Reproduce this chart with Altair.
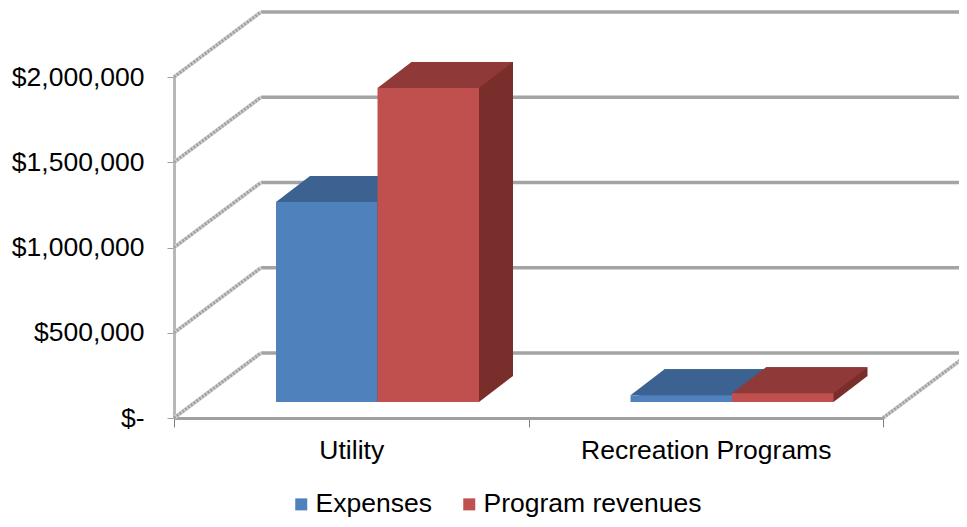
import altair as alt
import pandas as pd

# ---- data ----
categories = ["Utility", "Recreation Programs"]
series = ["Expenses", "Program revenues"]
expenses = [1173000, 40000]
revenues = [1842000, 52000]
tick_values = [0, 500000, 1000000, 1500000, 2000000]

front_colors = ["#4F81BD", "#C0504D"]
top_colors = ["#3B6290", "#8F3A38"]
side_colors = ["#2F4F74", "#7A2E2C"]

# ---- tables ----
rows = []
for i, c in enumerate(categories):
    for j, (s, vals) in enumerate(zip(series, [expenses, revenues])):
        rows.append({"cat": c, "series": s, "value": vals[i], "zero": 0,
                     "topcol": top_colors[j], "sidecol": side_colors[j]})
bars = pd.DataFrame(rows)
ticks = pd.DataFrame({"v": tick_values})
floor = pd.DataFrame({"v": [0]})

W, H = 709, 341
DX, DY = 87, 65          # depth of the wall/floor box
BX0, BX1 = 102, 305      # bar group span inside each category band (front face)
BY = 16                  # bar front face raised above the front floor edge
TX, TY = 34, 26          # bar depth
BW = (BX1 - BX0) / 2

FONT = "Liberation Sans"
FS = 26.5

x_enc = alt.X("cat:N", sort=categories, title=None,
              scale=alt.Scale(paddingInner=0, paddingOuter=0),
              axis=alt.Axis(labelFontSize=FS, labelFont=FONT, labelColor="black",
                            labelAngle=0, tickBand="extent", tickSize=9, tickColor="#808080",
                            domainColor="#A0A0A0", domainWidth=3, labelPadding=10,
                            labelLimit=500, grid=False))
xo_front = alt.XOffset("series:N", sort=series,
                       scale=alt.Scale(range=[BX0, BX1], paddingInner=0, paddingOuter=0))
xo_side = alt.XOffset("series:N", sort=series,
                      scale=alt.Scale(range=[BX0 + TX, BX1 + TX], paddingInner=0, paddingOuter=0))
# point marks use a point scale: put the two points at the bar centres
xo_pts = alt.XOffset("series:N", sort=series,
                     scale=alt.Scale(type="point", range=[BX0 + BW / 2, BX1 - BW / 2],
                                     padding=0))
y_scale = alt.Scale(domain=[0, 2000000], nice=False)
y_enc = alt.Y("value:Q", scale=y_scale, title=None,
              axis=alt.Axis(values=tick_values, grid=False,
                            labelExpr="datum.value == 0 ? '$-' : '$' + format(datum.value, ',')",
                            labelFontSize=FS, labelFont=FONT, labelColor="black",
                            tickSize=7, tickColor="#A0A0A0", labelPadding=23,
                            domainColor="#B8B8B8", domainWidth=3))

# back wall gridlines
back_grid = alt.Chart(ticks).mark_rule(
    color="#A4A4A4", strokeWidth=3.5, yOffset=-DY, y2Offset=-DY
).encode(
    y=alt.Y("v:Q", scale=y_scale),
    x=alt.value(DX), x2=alt.value(W + DX + 120),
)
# side wall diagonals
side_base = alt.Chart(ticks).mark_rule(
    color="#CFCFCF", strokeWidth=4, y2Offset=-DY
).encode(
    y=alt.Y("v:Q", scale=y_scale), y2="v:Q",
    x=alt.value(0), x2=alt.value(DX),
)
side_hatch = alt.Chart(ticks).mark_rule(
    color="#A0A0A0", strokeWidth=3, strokeDash=[2, 1.5], y2Offset=-DY
).encode(
    y=alt.Y("v:Q", scale=y_scale), y2="v:Q",
    x=alt.value(0), x2=alt.value(DX),
)
# right floor edge
floor_base = alt.Chart(floor).mark_rule(
    color="#CFCFCF", strokeWidth=4, y2Offset=-DY
).encode(
    y=alt.Y("v:Q", scale=y_scale), y2="v:Q",
    x=alt.value(W), x2=alt.value(W + DX),
)
floor_hatch = alt.Chart(floor).mark_rule(
    color="#A0A0A0", strokeWidth=3, strokeDash=[2, 1.5], y2Offset=-DY
).encode(
    y=alt.Y("v:Q", scale=y_scale), y2="v:Q",
    x=alt.value(W), x2=alt.value(W + DX),
)

top_path = f"M{-BW/2},0L{BW/2},0L{BW/2+TX},{-TY}L{-BW/2+TX},{-TY}Z"

side = alt.Chart(bars).mark_bar(
    yOffset=-BY - TY, y2Offset=-BY - TY
).encode(
    x=x_enc, xOffset=xo_side, y=y_enc,
    color=alt.Color("sidecol:N", scale=None),
)
bottom = alt.Chart(bars).mark_point(
    shape=top_path, size=4, filled=True, opacity=1, strokeWidth=0, yOffset=-BY
).encode(
    x=x_enc, xOffset=xo_pts, y=alt.Y("zero:Q", scale=y_scale),
    color=alt.Color("sidecol:N", scale=None),
)
top = alt.Chart(bars).mark_point(
    shape=top_path, size=4, filled=True, opacity=1, strokeWidth=0, yOffset=-BY
).encode(
    x=x_enc, xOffset=xo_pts, y=y_enc,
    color=alt.Color("topcol:N", scale=None),
)
front = alt.Chart(bars).mark_bar(
    yOffset=-BY, y2Offset=-BY
).encode(
    x=x_enc, xOffset=xo_front, y=y_enc,
    color=alt.Color("series:N", sort=series,
                    scale=alt.Scale(domain=series, range=front_colors),
                    legend=alt.Legend(orient="none", legendX=114, legendY=414,
                                      direction="horizontal", title=None,
                                      symbolType="square", symbolSize=144,
                                      symbolStrokeWidth=0, labelFontSize=FS,
                                      labelFont=FONT, labelColor="black",
                                      labelOffset=1, columnPadding=24,
                                      labelLimit=500, padding=0)),
)

chart = alt.layer(
    back_grid, side_base, side_hatch, floor_base, floor_hatch,
    side, bottom, top, front
).resolve_scale(
    xOffset="independent"
).properties(
    width=W, height=H,
    background="white",
    autosize=alt.AutoSizeParams(type="none"),
    padding={"left": 166, "top": 69, "right": 76, "bottom": 101},
).configure_view(stroke="transparent", strokeWidth=0)

chart.save("out.html", embed_options={"renderer": "svg", "actions": False})
